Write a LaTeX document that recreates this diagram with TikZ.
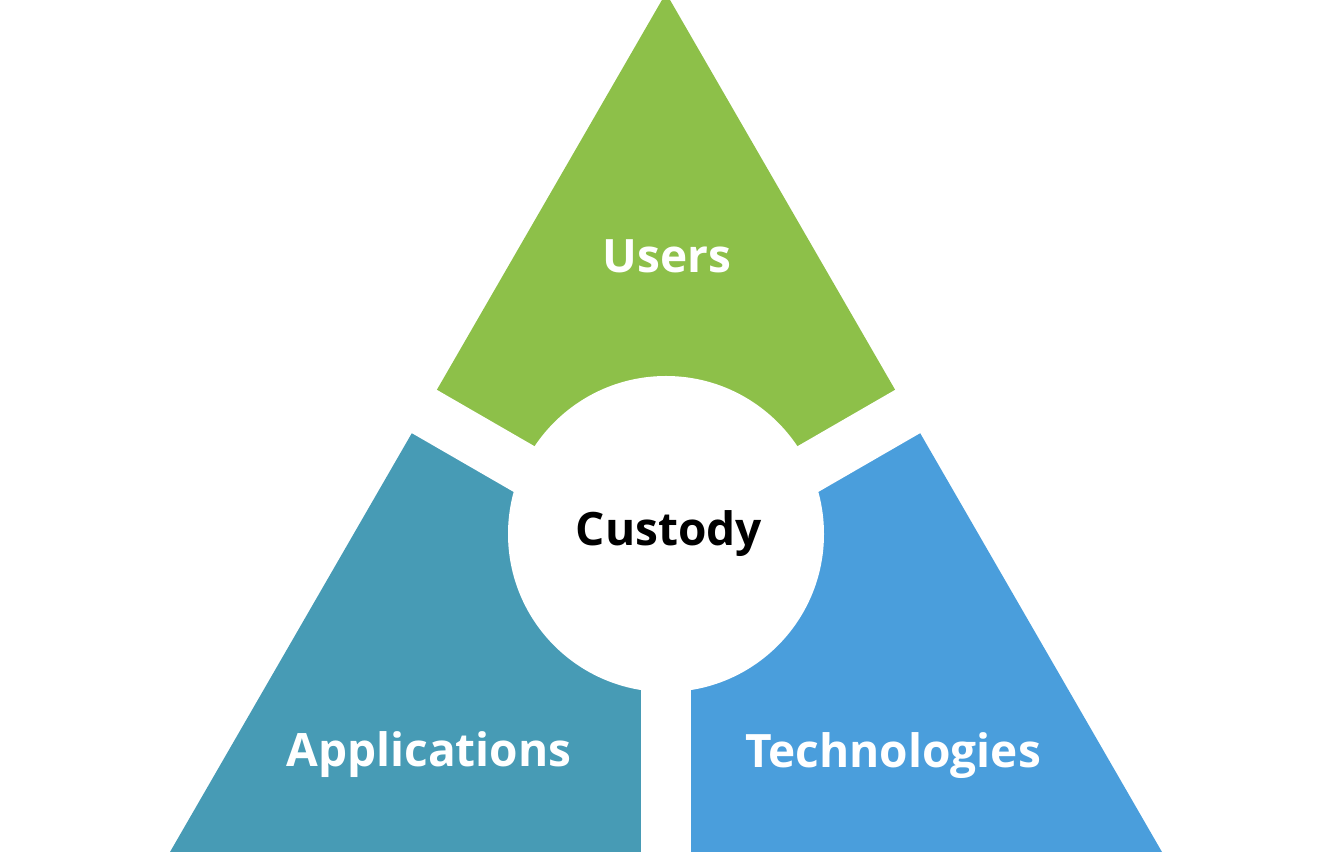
\documentclass[tikz,border=0pt]{standalone}
\usepackage{fontspec}
\setmainfont{Open Sans}
\usetikzlibrary{calc}
\definecolor{usersgreen}{RGB}{141,192,73}
\definecolor{appsteal}{RGB}{71,155,181}
\definecolor{techblue}{RGB}{74,158,220}
\tikzset{
  lbl/.style={font=\bfseries\fontsize{46}{54}\selectfont, text=white, anchor=base, inner sep=0pt},
  gapband/.style={fill=white}
}
\begin{document}
\begin{tikzpicture}[x=1pt,y=1pt]
\useasboundingbox (0,0) rectangle (1342,854);
\coordinate (G) at (666,303);
\coordinate (apex) at (666,861);
\coordinate (bl) at (170,2);
\coordinate (br) at (1162,2);
\begin{scope}
  \clip (apex) -- (bl) -- (br) -- cycle;
  % three sectors from G
  \fill[usersgreen] (G) -- ++(150:1200) -- (-200,1200) -- (1542,1200) -- ($(G)+(30:1200)$) -- cycle;
  \fill[appsteal] (G) -- ++(150:1200) -- (-200,-200) -- (666,-200) -- cycle;
  \fill[techblue] (G) -- ++(30:1200) -- (1542,-200) -- (666,-200) -- cycle;
\end{scope}
% white gaps
\fill[gapband, shift={(666,303)}, rotate=150] (0,-25) rectangle (700,25);
\fill[gapband, shift={(666,303)}, rotate=30] (0,-25) rectangle (700,25);
\fill[gapband] (641,-10) rectangle (691,303);
% central circle
\fill[white] (666,320) circle (158);
\node[lbl] (users) at (667,581) {Users};
\node[lbl] (apps) at (429,87) {Applications};
\node[lbl] (tech) at (893,86) {Technologies};
\node[lbl, text=black] (custody) at (669,308) {Custody};
\end{tikzpicture}
\end{document}
